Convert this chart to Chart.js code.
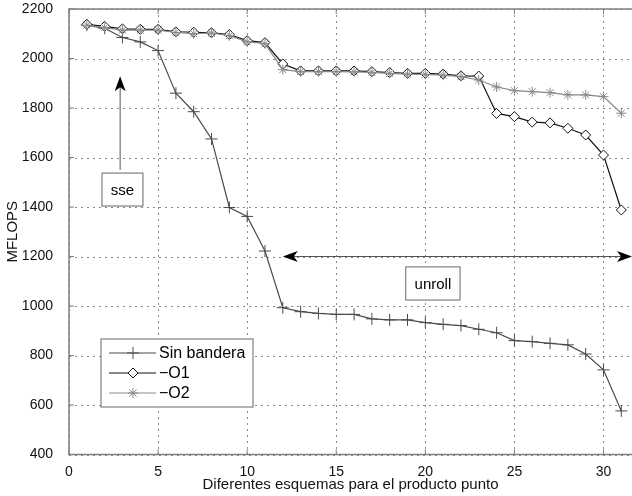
<!DOCTYPE html>
<html lang="es">
<head>
  <meta charset="UTF-8">
  <title>MFLOPS - producto punto</title>
  <script src="https://cdn.jsdelivr.net/npm/chart.js"></script>
  <style>
    body { margin: 0; background: #fff; }
    canvas { display: block; }
  </style>
</head>
<body>
  <canvas id="chart" width="632" height="496"></canvas>
  <script>
    // esquemas 1..31
    const esquemas = Array.from({ length: 31 }, (_, i) => i + 1);
    const sinBandera = [2135, 2122, 2085, 2067, 2032, 1860, 1785, 1675, 1398, 1362, 1222,
      993, 977, 970, 966, 966, 948, 944, 944, 933, 926, 921, 906, 892, 860, 856, 849, 843,
      806, 742, 576];
    const o1 = [2138, 2130, 2120, 2118, 2118, 2108, 2106, 2104, 2097, 2072, 2064,
      1978, 1950, 1950, 1950, 1950, 1947, 1943, 1940, 1940, 1937, 1930, 1929, 1778, 1765,
      1743, 1740, 1718, 1691, 1610, 1388];
    const o2 = [2135, 2125, 2115, 2115, 2115, 2105, 2100, 2103, 2092, 2068, 2060,
      1955, 1947, 1947, 1947, 1946, 1944, 1940, 1937, 1936, 1933, 1927, 1913, 1885, 1870,
      1866, 1862, 1853, 1853, 1846, 1779];
    const xTicks = [0, 5, 10, 15, 20, 25, 30];
    const yTicks = [400, 600, 800, 1000, 1200, 1400, 1600, 1800, 2000, 2200];
    const serieNames = ['Sin bandera', '\u2212O1', '\u2212O2'];

    const FONT = '"Liberation Sans", Arial, Helvetica, sans-serif';
    const FRAME = '#7f7f7f';

    const toXY = arr => arr.map((v, i) => ({ x: esquemas[i], y: v }));

    const styles = [
      { color: '#4a4a4a', pointStyle: 'cross', radius: 6 },
      { color: '#111', pointStyle: 'rectRot', radius: 5 },
      { color: '#8a8a8a', pointStyle: 'star', radius: 5 }
    ];

    function arrow(ctx, x1, y1, x2, y2) {
      const ang = Math.atan2(y2 - y1, x2 - x1);
      const len = 15, half = 5.5, notch = 4;
      ctx.save();
      ctx.strokeStyle = '#555';
      ctx.lineWidth = 1;
      ctx.beginPath();
      ctx.moveTo(x1, y1);
      ctx.lineTo(x2 - Math.cos(ang) * (len - notch), y2 - Math.sin(ang) * (len - notch));
      ctx.stroke();
      ctx.translate(x2, y2);
      ctx.rotate(ang);
      ctx.fillStyle = '#000';
      ctx.beginPath();
      ctx.moveTo(0, 0);
      ctx.lineTo(-len, -half);
      ctx.lineTo(-len + notch, 0);
      ctx.lineTo(-len, half);
      ctx.closePath();
      ctx.fill();
      ctx.restore();
    }

    function textBox(ctx, x1, y1, x2, y2, text) {
      ctx.save();
      ctx.fillStyle = '#fff';
      ctx.fillRect(x1, y1, x2 - x1, y2 - y1);
      ctx.strokeStyle = FRAME;
      ctx.lineWidth = 1.2;
      ctx.strokeRect(x1, y1, x2 - x1, y2 - y1);
      ctx.fillStyle = '#000';
      ctx.font = '15px ' + FONT;
      ctx.textAlign = 'center';
      ctx.textBaseline = 'middle';
      ctx.fillText(text, (x1 + x2) / 2, (y1 + y2) / 2 + 1);
      ctx.restore();
    }

    const extras = {
      id: 'extras',
      beforeDatasetsDraw(chart) {
        // rejilla punteada
        const { ctx, chartArea: a, scales: { x, y } } = chart;
        ctx.save();
        ctx.strokeStyle = '#8a8a8a';
        ctx.lineWidth = 1;
        ctx.setLineDash([2, 4]);
        ctx.beginPath();
        xTicks.forEach(t => {
          const px = Math.round(x.getPixelForValue(t)) + 0.5;
          ctx.moveTo(px, a.top); ctx.lineTo(px, a.bottom);
        });
        yTicks.forEach(t => {
          const py = Math.round(y.getPixelForValue(t)) + 0.5;
          ctx.moveTo(a.left, py); ctx.lineTo(a.right, py);
        });
        ctx.stroke();
        ctx.restore();
      },
      afterDatasetsDraw(chart) {
        const { ctx, chartArea: a, scales: { x, y } } = chart;
        ctx.save();
        // marco y marcas de escala interiores
        ctx.strokeStyle = FRAME;
        ctx.lineWidth = 1.5;
        ctx.beginPath();
        ctx.moveTo(a.right, a.top);
        ctx.lineTo(a.left, a.top);
        ctx.lineTo(a.left, a.bottom);
        ctx.lineTo(a.right, a.bottom);
        ctx.stroke();
        ctx.lineWidth = 1;
        ctx.beginPath();
        xTicks.forEach(t => {
          const px = x.getPixelForValue(t);
          ctx.moveTo(px, a.bottom); ctx.lineTo(px, a.bottom - 5);
          ctx.moveTo(px, a.top); ctx.lineTo(px, a.top + 5);
        });
        yTicks.forEach(t => {
          const py = y.getPixelForValue(t);
          ctx.moveTo(a.left, py); ctx.lineTo(a.left + 5, py);
        });
        ctx.stroke();
        ctx.restore();

        // anotación sse
        arrow(ctx, x.getPixelForValue(2.87), y.getPixelForValue(1550),
          x.getPixelForValue(2.87), y.getPixelForValue(1928));
        textBox(ctx, x.getPixelForValue(1.85), y.getPixelForValue(1537),
          x.getPixelForValue(4.15), y.getPixelForValue(1404), 'sse');

        // anotación unroll (doble flecha)
        const ya = y.getPixelForValue(1200);
        const xa1 = x.getPixelForValue(12), xa2 = a.right;
        const xm = (xa1 + xa2) / 2;
        arrow(ctx, xm, ya, xa1, ya);
        arrow(ctx, xm, ya, xa2, ya);
        textBox(ctx, x.getPixelForValue(18.9), y.getPixelForValue(1158),
          x.getPixelForValue(21.95), y.getPixelForValue(1024), 'unroll');

        // leyenda
        const lx1 = a.left + 32, ly1 = a.top + 330, lx2 = a.left + 184, ly2 = a.top + 398;
        ctx.save();
        ctx.fillStyle = '#fff';
        ctx.fillRect(lx1, ly1, lx2 - lx1, ly2 - ly1);
        ctx.strokeStyle = FRAME;
        ctx.lineWidth = 1.2;
        ctx.strokeRect(lx1, ly1, lx2 - lx1, ly2 - ly1);
        ctx.font = '16px ' + FONT;
        ctx.textBaseline = 'middle';
        serieNames.forEach((name, i) => {
          const s = styles[i];
          const ry = ly1 + 14 + i * 20;
          ctx.strokeStyle = s.color;
          ctx.lineWidth = 1;
          ctx.beginPath();
          ctx.moveTo(lx1 + 8, ry); ctx.lineTo(lx1 + 55, ry);
          ctx.stroke();
          ctx.fillStyle = '#fff';
          Chart.helpers.drawPoint(ctx, { pointStyle: s.pointStyle, radius: s.radius, rotation: 0, borderWidth: 1 },
            lx1 + 32, ry);
          ctx.fillStyle = '#000';
          ctx.fillText(name, lx1 + 58, ry + 1);
        });
        ctx.restore();
      }
    };

    const series = [sinBandera, o1, o2];

    new Chart(document.getElementById('chart'), {
      type: 'line',
      data: {
        datasets: series.map((vals, i) => ({
          label: serieNames[i],
          data: toXY(vals),
          borderColor: styles[i].color,
          backgroundColor: '#fff',
          pointBorderColor: styles[i].color,
          pointBackgroundColor: '#fff',
          pointStyle: styles[i].pointStyle,
          pointRadius: styles[i].radius,
          pointBorderWidth: 1,
          borderWidth: 1.2,
          tension: 0,
          fill: false,
          order: 2 - i
        }))
      },
      options: {
        responsive: false,
        animation: false,
        layout: { autoPadding: false, padding: { top: 9, left: 0, right: 0, bottom: 0 } },
        plugins: {
          legend: { display: false },
          tooltip: { enabled: false }
        },
        scales: {
          x: {
            type: 'linear',
            min: 0,
            max: 31.6,
            afterBuildTicks: s => { s.ticks = xTicks.map(v => ({ value: v })); },
            afterFit: s => { s.height = 41.5; s.paddingLeft = 0; s.paddingRight = 0; },
            grid: { display: false },
            border: { display: false },
            ticks: { color: '#111', padding: 1, font: { family: FONT, size: 14 }, callback: v => String(v) },
            title: {
              display: true,
              text: 'Diferentes esquemas para el producto punto',
              color: '#111',
              font: { family: FONT, size: 15 },
              padding: { top: 0, bottom: 2 }
            }
          },
          y: {
            min: 400,
            max: 2200,
            afterBuildTicks: s => { s.ticks = yTicks.map(v => ({ value: v })); },
            afterFit: s => { s.width = 69; s.paddingTop = 0; s.paddingBottom = 0; },
            grid: { display: false },
            border: { display: false },
            ticks: { color: '#111', padding: 8, font: { family: FONT, size: 14 }, callback: v => String(v) },
            title: {
              display: true,
              text: 'MFLOPS',
              color: '#111',
              font: { family: FONT, size: 15 },
              padding: { top: 4, bottom: 0 }
            }
          }
        }
      },
      plugins: [extras]
    });
  </script>
</body>
</html>
